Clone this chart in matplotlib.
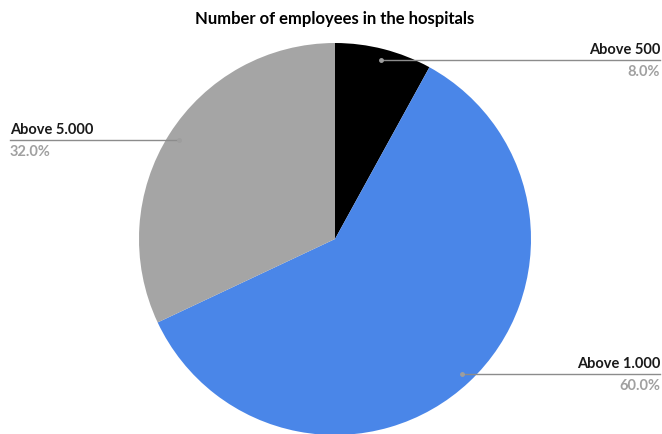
import numpy as np
import matplotlib.pyplot as plt

# Employee-count shares per hospital size band
categories = ["Above 500", "Above 1.000", "Above 5.000"]
shares = [8.0, 60.0, 32.0]
colors = ["#000000", "#4a86e8", "#a5a5a5"]

plt.rcParams["font.family"] = ["Lato", "DejaVu Sans"]

W, H = 662, 435
fig = plt.figure(figsize=(W / 100, H / 100), dpi=100)
fig.patch.set_facecolor("white")

# pie axes placed in pixel terms: centre (335, 240), radius 196
cx, cy, r = 335, 240, 196
ax = fig.add_axes([(cx - r) / W, (H - cy - r) / H, 2 * r / W, 2 * r / H])
wedges, _ = ax.pie(shares, colors=colors, startangle=90, counterclock=False,
                   radius=1.0, wedgeprops=dict(linewidth=0))
ax.set_xlim(-1, 1)
ax.set_ylim(-1, 1)
ax.set_aspect("auto")
ax.axis("off")

fig.text(cx / W, 1 - 19 / H, "Number of employees in the hospitals",
         ha="center", va="center", fontsize=12, fontweight="bold", color="#000000")

to_fig = ax.transData + fig.transFigure.inverted()
for w, name, val in zip(wedges, categories, shares):
    mid = np.deg2rad((w.theta1 + w.theta2) / 2)
    dx, dy = 0.945 * np.cos(mid), 0.945 * np.sin(mid)
    fx, fy = to_fig.transform((dx, dy))
    right = dx > 0
    x_end = 660 / W if right else 10 / W
    fig.add_artist(plt.Line2D([fx, x_end], [fy, fy], color="#8c8c8c", lw=1.0))
    fig.add_artist(plt.Line2D([fx], [fy], marker="o", ms=2.5, color="#9e9e9e", lw=0))
    ha = "right" if right else "left"
    fig.text(x_end, fy + 4 / H, name, ha=ha, va="bottom", fontsize=10.5,
             fontweight="bold", color="#1a1a1a")
    fig.text(x_end, fy - 4 / H, f"{val:.1f}%", ha=ha, va="top", fontsize=10.5,
             fontweight="bold", color="#a0a0a0")

fig.savefig("out.png", dpi=100, facecolor="white")
